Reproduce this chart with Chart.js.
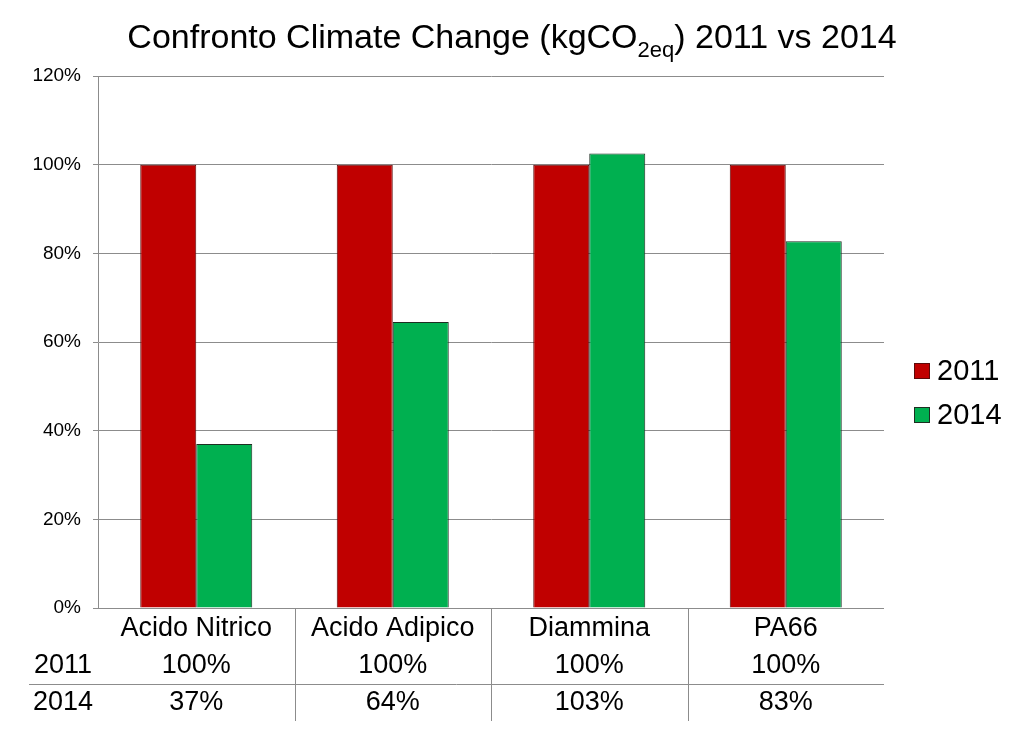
<!DOCTYPE html>
<html>
<head>
<meta charset="utf-8">
<script src="https://cdn.jsdelivr.net/npm/chart.js@4"></script>
<style>
  body { margin: 0; background: #fff; }
  #wrap { width: 1024px; height: 730px; }
</style>
</head>
<body>
<div id="wrap"><canvas id="chart"></canvas></div>
<script>
// dati
const categorie = ['Acido Nitrico', 'Acido Adipico', 'Diammina', 'PA66'];
const valori2011 = [100, 100, 100, 100];
const valori2014 = [37, 64.5, 102.5, 82.7];
const etichette2011 = ['100%', '100%', '100%', '100%'];
const etichette2014 = ['37%', '64%', '103%', '83%'];
const tickY = [0, 20, 40, 60, 80, 100, 120];

const FONT = 'Arial, "Liberation Sans", sans-serif';

// titolo con pedice
const titoloPlugin = {
    id: 'titolo',
    afterDraw(chart) {
        const ctx = chart.ctx;
        const parti = [
            { t: 'Confronto Climate Change (kgCO', size: 34, dy: 0 },
            { t: '2eq', size: 22, dy: 9 },
            { t: ') 2011 vs 2014', size: 34, dy: 0 }
        ];
        let w = 0;
        parti.forEach(p => { ctx.font = p.size + 'px ' + FONT; w += ctx.measureText(p.t).width; });
        let x = 512 - w / 2;
        ctx.save();
        ctx.fillStyle = '#000';
        ctx.textBaseline = 'alphabetic';
        ctx.textAlign = 'left';
        parti.forEach(p => {
            ctx.font = p.size + 'px ' + FONT;
            ctx.fillText(p.t, x, 48 + p.dy);
            x += ctx.measureText(p.t).width;
        });
        ctx.restore();
    }
};

// tabella dati sotto l'asse
const tabellaPlugin = {
    id: 'tabella',
    afterDraw(chart) {
        const ctx = chart.ctx;
        const xs = chart.scales.x;
        const area = chart.chartArea;
        const n = categorie.length;
        const passo = (area.right - area.left) / n;
        ctx.save();
        ctx.strokeStyle = '#8c8c8c';
        ctx.lineWidth = 1;
        // linee verticali tra categorie
        for (let i = 1; i < n; i++) {
            const x = Math.round(area.left + passo * i) + 0.5;
            ctx.beginPath();
            ctx.moveTo(x, area.bottom);
            ctx.lineTo(x, 721);
            ctx.stroke();
        }
        // linea orizzontale tra le righe
        ctx.beginPath();
        ctx.moveTo(29, 684.5);
        ctx.lineTo(area.right, 684.5);
        ctx.stroke();

        ctx.fillStyle = '#000';
        ctx.textAlign = 'center';
        ctx.textBaseline = 'middle';
        ctx.font = '27px ' + FONT;
        categorie.forEach((c, i) => {
            const x = xs.getPixelForValue(i);
            ctx.fillText(c, x, 629);
            ctx.fillText(etichette2011[i], x, 666);
            ctx.fillText(etichette2014[i], x, 703);
        });
        ctx.fillText('2011', 63, 666);
        ctx.fillText('2014', 63, 703);
        ctx.restore();
    }
};

// legenda a destra
const legendaPlugin = {
    id: 'legenda',
    afterDraw(chart) {
        const ctx = chart.ctx;
        ctx.save();
        ctx.font = '29px ' + FONT;
        ctx.textBaseline = 'middle';
        ctx.textAlign = 'left';
        chart.data.datasets.forEach((ds, i) => {
            const y = 371 + i * 44;
            ctx.fillStyle = ds.backgroundColor;
            ctx.fillRect(914, y - 8, 16, 16);
            ctx.strokeStyle = ds.borderColor;
            ctx.lineWidth = 1;
            ctx.strokeRect(914.5, y - 7.5, 15, 15);
            ctx.fillStyle = '#000';
            ctx.fillText(ds.label, 937, y + 1);
        });
        ctx.restore();
    }
};

new Chart(document.getElementById('chart'), {
    type: 'bar',
    data: {
        labels: categorie,
        datasets: [
            {
                label: '2011',
                data: valori2011,
                backgroundColor: '#c00000',
                borderColor: '#5c0a0a',
                borderWidth: 1
            },
            {
                label: '2014',
                data: valori2014,
                backgroundColor: '#00b050',
                borderColor: '#1e2e22',
                borderWidth: 1
            }
        ]
    },
    options: {
        responsive: true,
        maintainAspectRatio: false,
        animation: false,
        layout: { padding: { top: 76, right: 140, bottom: 114, left: 0 } },
        categoryPercentage: 0.57,
        barPercentage: 1,
        plugins: {
            legend: { display: false },
            title: { display: false },
            tooltip: { enabled: false }
        },
        scales: {
            x: {
                grid: { display: false },
                ticks: { display: false },
                border: { display: false }
            },
            y: {
                min: 0,
                max: 120,
                afterFit(scale) { scale.width = 98; },
                afterBuildTicks(scale) { scale.ticks = tickY.map(v => ({ value: v })); },
                grid: { color: '#8c8c8c', tickLength: 5 },
                border: { color: '#8c8c8c' },
                ticks: {
                    color: '#000',
                    font: { family: FONT, size: 19 },
                    padding: 12,
                    callback: v => v + '%'
                }
            }
        }
    },
    plugins: [titoloPlugin, tabellaPlugin, legendaPlugin]
});
</script>
</body>
</html>
